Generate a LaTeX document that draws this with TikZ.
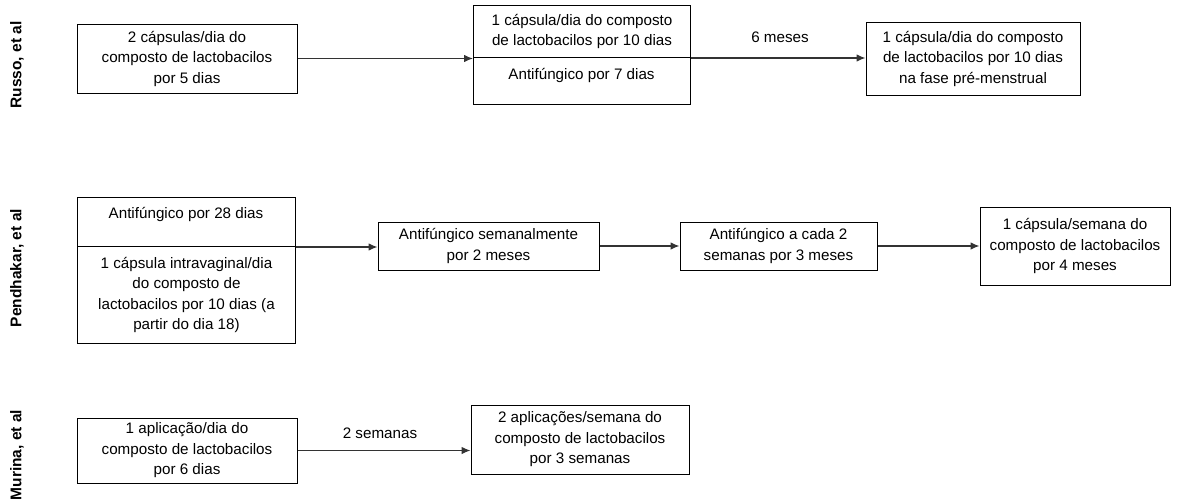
\documentclass[tikz,border=0pt]{standalone}
\usepackage{fontspec}
\setmainfont{Liberation Sans}
\usetikzlibrary{arrows.meta}
\tikzset{
  box/.style={draw=black, line width=1pt, rectangle, inner sep=0pt, align=center,
    font=\fontsize{15.2}{20.5}\selectfont},
  txt/.style={inner sep=0pt, align=center, font=\fontsize{15.2}{20.5}\selectfont},
  lab/.style={inner sep=0pt, rotate=90, font=\bfseries\fontsize{15.5}{18}\selectfont},
  arr/.style={draw=black!80, line width=1.1pt, -{Latex[length=9pt,width=7.5pt]}},
}
\begin{document}
\begin{tikzpicture}[x=1pt,y=-1pt]
\useasboundingbox (0,0) rectangle (1199,498);
% labels
\node[lab] (lr) at (17,65) {Russo, et al};
\node[lab] (lp) at (17,268) {Pendhakar, et al};
\node[lab] (lm) at (17,455) {Murina, et al};
% Russo
\node[box, minimum width=220, minimum height=69] (r1) at (187,58.5) {2 cápsulas/dia do\\composto de lactobacilos\\por 5 dias};
\node[box, minimum width=217, minimum height=52, anchor=north west] (r2t) at (473,5) {1 cápsula/dia do composto\\de lactobacilos por 10 dias};
\node[box, minimum width=217, minimum height=47, anchor=north west] (r2b) at (473,57) {};
\node[txt] (r2bt) at (581.5,75) {Antifúngico por 7 dias};
\node[box, minimum width=214, minimum height=73] (r3) at (973,58.5) {1 cápsula/dia do composto\\de lactobacilos por 10 dias\\na fase pré-menstrual};
\draw[arr] (r1.east) -- (r1.east -| r2t.west);
\draw[arr] (r2t.south east) -- (r2t.south east -| r3.west);
\node[txt] (m6) at (780,37) {6 meses};
% Pendhakar
\node[box, minimum width=218, minimum height=49, anchor=north west] (p1t) at (77,197) {};
\node[txt] (p1tt) at (186,214) {Antifúngico por 28 dias};
\node[box, minimum width=218, minimum height=97, anchor=north west] (p1b) at (77,246) {1 cápsula intravaginal/dia\\do composto de\\lactobacilos por 10 dias (a\\partir do dia 18)};
\node[box, minimum width=221, minimum height=48] (p2) at (488.5,246) {Antifúngico semanalmente\\por 2 meses};
\node[box, minimum width=197, minimum height=48] (p3) at (778.5,246) {Antifúngico a cada 2\\semanas por 3 meses};
\node[box, minimum width=190, minimum height=78] (p4) at (1075,246) {1 cápsula/semana do\\composto de lactobacilos\\por 4 meses};
\draw[arr] (p1t.south east) -- (p1t.south east -| p2.west);
\draw[arr] (p2.east) -- (p3.west);
\draw[arr] (p3.east) -- (p4.west);
% Murina
\node[box, minimum width=220, minimum height=65] (m1) at (187,450.5) {1 aplicação/dia do\\composto de lactobacilos\\por 6 dias};
\node[box, minimum width=218, minimum height=69] (m2) at (580,439.5) {2 aplicações/semana do\\composto de lactobacilos\\por 3 semanas};
\draw[arr] (m1.east) -- (m1.east -| m2.west);
\node[txt] (s2) at (380,433) {2 semanas};
\end{tikzpicture}
\end{document}
